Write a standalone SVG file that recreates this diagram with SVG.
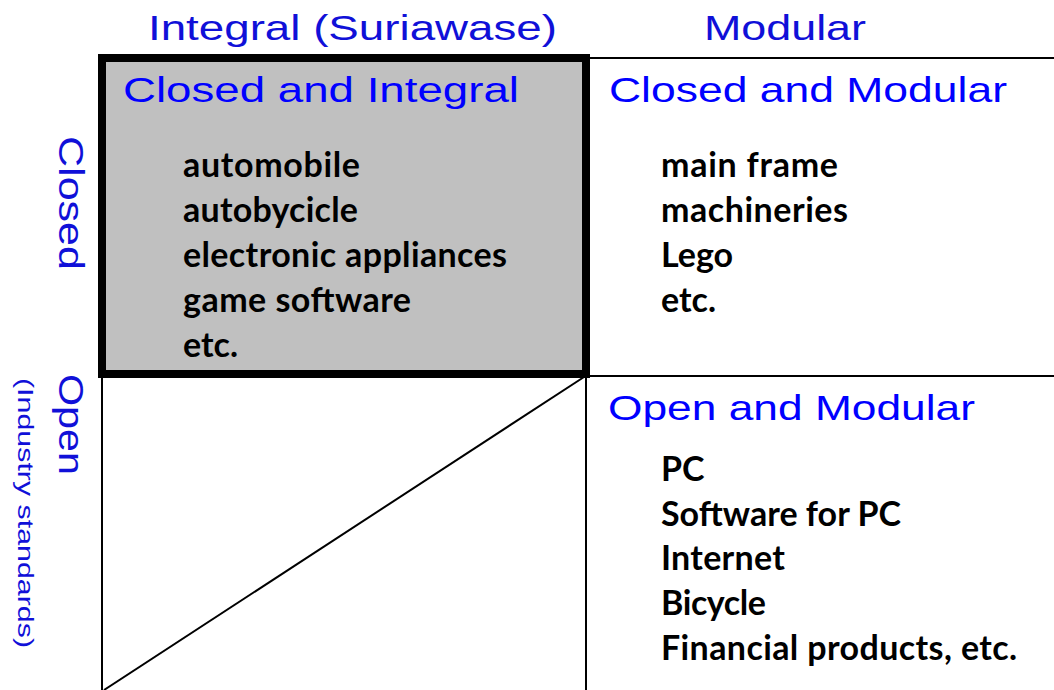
<svg xmlns="http://www.w3.org/2000/svg" width="1054" height="690" viewBox="0 0 1054 690">
<style>
.ax{font-family:"Liberation Sans",Arial,sans-serif;font-size:35px;fill:#1010d8}
.qt{font-family:"Liberation Sans",Arial,sans-serif;font-size:35px;fill:#0000ff}
.it{font-family:Lato,"Noto Sans",sans-serif;font-weight:bold;font-size:34px;fill:#000}
.ln{stroke:#000;stroke-width:2;fill:none}
</style>
<rect width="1054" height="690" fill="#fff"/>
<g id="axis-labels">
<text class="ax" x="148" y="40" textLength="409" lengthAdjust="spacingAndGlyphs">Integral (Suriawase)</text>
<text class="ax" x="704" y="40" textLength="162" lengthAdjust="spacingAndGlyphs">Modular</text>
<text class="ax" transform="translate(59,136) rotate(90)" textLength="134" lengthAdjust="spacingAndGlyphs">Closed</text>
<text class="ax" transform="translate(59,374) rotate(90)" textLength="101" lengthAdjust="spacingAndGlyphs">Open</text>
<text class="ax" style="font-size:22px" transform="translate(18,378) rotate(90)" textLength="270" lengthAdjust="spacingAndGlyphs">(Industry standards)</text>
</g>
<g id="connectors">
<line class="ln" x1="590" y1="58" x2="1054" y2="58"/>
<line class="ln" x1="590" y1="376" x2="1054" y2="376"/>
<line class="ln" x1="586" y1="378" x2="586" y2="690"/>
<line class="ln" x1="102" y1="378" x2="102" y2="690"/>
<line class="ln" x1="104" y1="690" x2="584" y2="377"/>
</g>
<g id="closed-integral">
<rect x="102" y="58" width="484" height="316" fill="#c0c0c0" stroke="#000" stroke-width="8"/>
<text class="qt" x="123" y="102" textLength="396" lengthAdjust="spacingAndGlyphs">Closed and Integral</text>
<text class="it" x="183" y="177" textLength="177" lengthAdjust="spacing">automobile</text>
<text class="it" x="183" y="222" textLength="175" lengthAdjust="spacing">autobycicle</text>
<text class="it" x="183" y="267" textLength="324" lengthAdjust="spacing">electronic appliances</text>
<text class="it" x="183" y="312" textLength="228" lengthAdjust="spacing">game software</text>
<text class="it" x="183" y="357">etc.</text>
</g>
<g id="closed-modular">
<text class="qt" x="609" y="102" textLength="398" lengthAdjust="spacingAndGlyphs">Closed and Modular</text>
<text class="it" x="661" y="177" textLength="177" lengthAdjust="spacing">main frame</text>
<text class="it" x="661" y="222" textLength="187" lengthAdjust="spacing">machineries</text>
<text class="it" x="661" y="267">Lego</text>
<text class="it" x="661" y="312">etc.</text>
</g>
<g id="open-modular">
<text class="qt" x="608" y="420" textLength="367" lengthAdjust="spacingAndGlyphs">Open and Modular</text>
<text class="it" x="661" y="481">PC</text>
<text class="it" x="661" y="526" textLength="240" lengthAdjust="spacing">Software for PC</text>
<text class="it" x="661" y="570" textLength="124" lengthAdjust="spacing">Internet</text>
<text class="it" x="661" y="615" textLength="105" lengthAdjust="spacing">Bicycle</text>
<text class="it" x="661" y="660" textLength="356" lengthAdjust="spacing">Financial products, etc.</text>
</g>
</svg>
